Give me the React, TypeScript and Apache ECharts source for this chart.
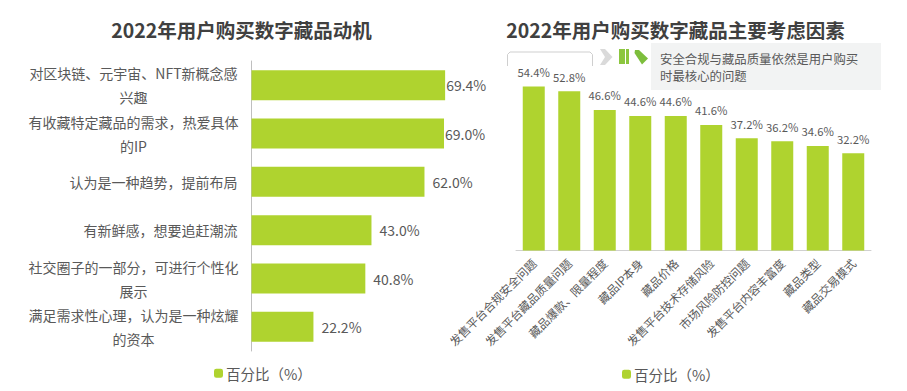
import React, { useEffect, useRef } from "react";
import * as echarts from "echarts";

const FONT = '"Noto Sans CJK SC", "Noto Sans", sans-serif';
const leftTitle = "2022年用户购买数字藏品动机";
const rightTitle = "2022年用户购买数字藏品主要考虑因素";
const legendName = "百分比（%）";
const noteLines = ["安全合规与藏品质量依然是用户购买", "时最核心的问题"];

const motiveCategories = [
  "对区块链、元宇宙、NFT新概念感\n兴趣",
  "有收藏特定藏品的需求，热爱具体\n的IP",
  "认为是一种趋势，提前布局",
  "有新鲜感，想要追赶潮流",
  "社交圈子的一部分，可进行个性化\n展示",
  "满足需求性心理，认为是一种炫耀\n的资本",
];
const motiveValues = [69.4, 69.0, 62.0, 43.0, 40.8, 22.2];

const factorCategories = [
  "发售平台合规安全问题",
  "发售平台藏品质量问题",
  "藏品爆款、限量程度",
  "藏品IP本身",
  "藏品价格",
  "发售平台技术存储风险",
  "市场风险防控问题",
  "发售平台内容丰富度",
  "藏品类型",
  "藏品交易模式",
];
const factorValues = [54.4, 52.8, 46.6, 44.6, 44.6, 41.6, 37.2, 36.2, 34.6, 32.2];

const GREEN = "#AFD32F";
const TEXT = "#595959";

export default function App() {
  const ref = useRef<HTMLDivElement>(null);
  useEffect(() => {
    const chart = echarts.init(ref.current!, null, { renderer: "svg" });
    chart.setOption({
      animation: false,
      backgroundColor: "#fff",
      textStyle: { fontFamily: FONT },
      title: [
        { text: leftTitle, left: 236.5, top: 14.5, textAlign: "center", textStyle: { fontSize: 19.5, fontWeight: "bold", color: "#404040", fontFamily: FONT } },
        { text: rightTitle, left: 670.5, top: 14.5, textAlign: "center", textStyle: { fontSize: 19.5, fontWeight: "bold", color: "#404040", fontFamily: FONT } },
      ],
      legend: [
        { left: 209, top: 361, itemWidth: 9, itemHeight: 9, itemGap: 0, data: [legendName], selectedMode: false, textStyle: { fontSize: 14.5, color: TEXT, fontFamily: FONT, padding: [0, 0, 0, -2] } },
        { left: 617, top: 362, itemWidth: 9, itemHeight: 9, itemGap: 0, data: [legendName], selectedMode: false, textStyle: { fontSize: 14.5, color: TEXT, fontFamily: FONT, padding: [0, 0, 0, -2] } },
      ],
      grid: [
        { left: 251.5, top: 61, width: 279, height: 290 },
        { left: 516, top: 69.5, width: 355, height: 181 },
      ],
      xAxis: [
        { gridIndex: 0, type: "value", min: 0, max: 100, show: false },
        {
          gridIndex: 1,
          type: "category",
          data: factorCategories,
          axisTick: { show: false },
          axisLine: { lineStyle: { color: "#D0D0D0", width: 1 } },
          axisLabel: { rotate: 45, interval: 0, fontSize: 11.7, color: TEXT, margin: 10, fontFamily: FONT },
        },
      ],
      yAxis: [
        {
          gridIndex: 0,
          type: "category",
          inverse: true,
          data: motiveCategories,
          axisTick: { show: false },
          axisLine: { lineStyle: { color: "#BFBFBF", width: 1 } },
          axisLabel: {
            interval: 0,
            margin: 14,
            fontSize: 14,
            color: TEXT,
            lineHeight: 24,
            fontFamily: FONT,
            formatter: (v: string) =>
              v.includes("\n") ? v.split("\n").map((l) => `{c|${l}}`).join("\n") : v,
            rich: { c: { width: 208, align: "center", fontSize: 14, color: TEXT, lineHeight: 24, fontFamily: FONT } },
          },
        },
        { gridIndex: 1, type: "value", min: 0, max: 60, show: false },
      ],
      series: [
        {
          name: legendName,
          type: "bar",
          xAxisIndex: 0,
          yAxisIndex: 0,
          barWidth: 30,
          itemStyle: { color: GREEN },
          data: motiveValues.map((value, i) => ({ value, label: { distance: i < 2 ? 1 : 8 } })),
          label: { show: true, position: "right", fontSize: 14, color: TEXT, fontFamily: FONT, formatter: (p: any) => `${p.value.toFixed(1)}%` },
        },
        {
          name: legendName,
          type: "bar",
          xAxisIndex: 1,
          yAxisIndex: 1,
          barWidth: 22,
          itemStyle: { color: GREEN },
          data: factorValues,
          label: { show: true, position: "top", distance: 9, fontSize: 11.3, color: TEXT, fontFamily: FONT, formatter: (p: any) => `${p.value.toFixed(1)}%` },
        },
      ],
      graphic: [
        { type: "polyline", shape: { points: [[507.5, 66], [507.5, 54.5], [510, 52], [590, 52], [592.5, 54.5], [592.5, 66]] }, style: { stroke: "#CFCFCF", fill: "none", lineWidth: 1 } },
        { type: "polygon", shape: { points: [[600, 49], [605, 49], [612.5, 57], [605, 65], [600, 65], [605, 57]] }, style: { fill: "#DADADA" } },
        { type: "rect", shape: { x: 619, y: 49, width: 6, height: 15 }, style: { fill: "#8CC63F" } },
        { type: "rect", shape: { x: 626, y: 49, width: 3, height: 15 }, style: { fill: "#8CC63F" } },
        { type: "polygon", shape: { points: [[634.5, 53], [635, 50], [639, 50], [648, 58.5], [642, 64.5]] }, style: { fill: "#7DBE3C" } },
        { type: "rect", shape: { x: 651, y: 43, width: 230, height: 47 }, style: { fill: "#F2F3F3" } },
        { type: "text", x: 660, y: 53, style: { text: noteLines[0], fill: TEXT, fontSize: 12.4, fontFamily: FONT } },
        { type: "text", x: 660, y: 70, style: { text: noteLines[1], fill: TEXT, fontSize: 12.4, fontFamily: FONT } },
      ],
    });
    return () => chart.dispose();
  }, []);
  return <div ref={ref} style={{ position: "absolute", left: 0, top: 0, width: 907, height: 391 }} />;
}
